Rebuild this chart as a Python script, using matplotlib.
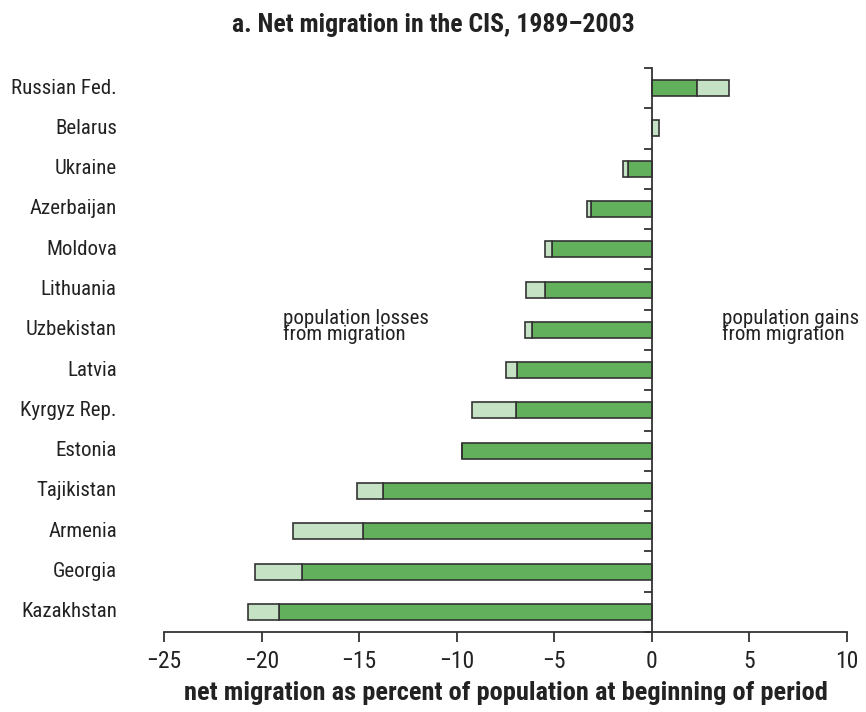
import matplotlib
matplotlib.use('Agg')
import matplotlib.pyplot as plt
import numpy as np

plt.rcParams['font.family'] = ['Roboto Condensed', 'Archivo Narrow', 'PT Sans Narrow',
                               'Liberation Sans Narrow', 'DejaVu Sans']

countries = ['Russian Fed.', 'Belarus', 'Ukraine', 'Azerbaijan', 'Moldova', 'Lithuania',
             'Uzbekistan', 'Latvia', 'Kyrgyz Rep.', 'Estonia', 'Tajikistan', 'Armenia',
             'Georgia', 'Kazakhstan']
# dark segment: first part of the period; light segment: the rest, stacked outward
main_part = [2.3, 0.0, -1.2, -3.1, -5.1, -5.5, -6.15, -6.9, -6.95, -9.75, -13.8, -14.8, -17.95, -19.1]
extra_part = [1.65, 0.35, -0.3, -0.2, -0.4, -0.95, -0.35, -0.55, -2.25, 0.0, -1.3, -3.6, -2.4, -1.6]

dark = '#62b05c'
light = '#c6e2c4'
edge = '#333333'
ink = '#222222'

fig = plt.figure(figsize=(8.66, 7.12), dpi=100)
ax = fig.add_axes([164 / 866, 80 / 712, 683 / 866, 564 / 712])

y = np.arange(len(countries))[::-1]
main_part = np.array(main_part)
extra_part = np.array(extra_part)
ax.barh(y, main_part, height=0.4, color=dark, edgecolor=edge, linewidth=1.2, zorder=2)
ax.barh(y, extra_part, left=main_part, height=0.4, color=light, edgecolor=edge,
        linewidth=1.2, zorder=2)

ax.set_xlim(-25, 10)
ax.set_ylim(-0.5, len(countries) - 0.5)
ax.set_xticks(np.arange(-25, 11, 5))
ax.set_xticklabels([f'\u2212{abs(v)}' if v < 0 else str(v) for v in range(-25, 11, 5)])

for s in ['top', 'right']:
    ax.spines[s].set_visible(False)
ax.spines['left'].set_position(('data', 0))
ax.spines['left'].set_zorder(3)
for s in ['left', 'bottom']:
    ax.spines[s].set_color(edge)
    ax.spines[s].set_linewidth(1.3)

ax.set_yticks(np.arange(-0.5, len(countries), 1.0))
ax.set_yticklabels([])
ax.tick_params(axis='y', length=6, width=1.3, color=edge, direction='out')
ax.tick_params(axis='x', length=7, width=1.3, color=edge, labelsize=17, pad=6,
               labelcolor=ink)

for yi, name in zip(y, countries):
    ax.text(-0.069, yi, name, transform=ax.get_yaxis_transform(), ha='right',
            va='center', fontsize=15, color=ink)

ax.text(-18.9, y[6] + 0.08, 'population losses\nfrom migration', ha='left', va='center',
        fontsize=15, linespacing=0.8, color=ink)
ax.text(3.6, y[6] + 0.08, 'population gains\nfrom migration', ha='left', va='center',
        fontsize=15, linespacing=0.8, color=ink)

ax.set_xlabel('net migration as percent of population at beginning of period',
              fontsize=19, fontweight='bold', labelpad=6, color=ink)
fig.text(0.5, 1 - 25 / 712, 'a. Net migration in the CIS, 1989\u20132003', ha='center',
         va='center', fontsize=18.5, fontweight='bold', color=ink)

fig.savefig('out.png', dpi=100)
